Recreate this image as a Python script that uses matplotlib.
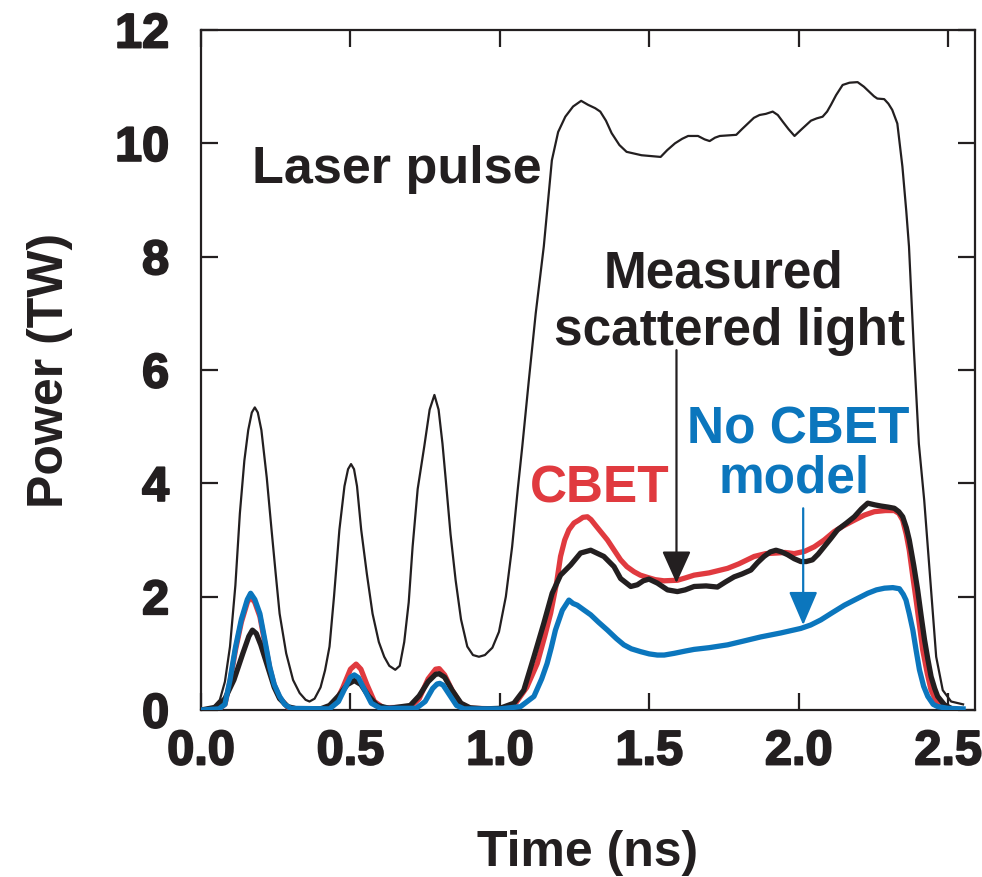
import matplotlib
matplotlib.use("Agg")
import matplotlib.pyplot as plt
import matplotlib.patheffects as pe

# --- data ---
laser_t = [0.00, 0.04, 0.063, 0.08, 0.097, 0.115, 0.13, 0.145, 0.158, 0.17, 0.18, 0.19, 0.202,
           0.22, 0.236, 0.25, 0.263, 0.285, 0.308, 0.33, 0.35, 0.363, 0.38, 0.40, 0.415, 0.43,
           0.445, 0.463, 0.48, 0.492, 0.502, 0.512, 0.522, 0.536, 0.555, 0.574, 0.595, 0.613,
           0.63, 0.65, 0.665, 0.68, 0.695, 0.708, 0.725, 0.747, 0.765, 0.781, 0.795, 0.808,
           0.819, 0.835, 0.852, 0.87, 0.891, 0.91, 0.93, 0.95, 0.975, 0.997, 1.02, 1.041, 1.06,
           1.075, 1.097, 1.12, 1.147, 1.174, 1.195, 1.219, 1.245, 1.272, 1.295, 1.319, 1.336,
           1.355, 1.374, 1.40, 1.424, 1.474, 1.538, 1.56, 1.586, 1.61, 1.63, 1.663, 1.685, 1.702,
           1.72, 1.736, 1.765, 1.791, 1.81, 1.83, 1.85, 1.869, 1.89, 1.913, 1.93, 1.947, 1.966,
           1.986, 2.01, 2.041, 2.06, 2.08, 2.095, 2.108, 2.125, 2.147, 2.17, 2.197, 2.218, 2.236,
           2.252, 2.263, 2.286, 2.30, 2.313, 2.33, 2.347, 2.36, 2.369, 2.385, 2.402, 2.42, 2.443,
           2.46, 2.482, 2.51, 2.55]
laser_p = [0.02, 0.05, 0.18, 0.5, 1.12, 2.2, 3.47, 4.4, 4.94, 5.25, 5.34, 5.25, 4.94,
           4.1, 3.18, 2.4, 1.7, 1.0, 0.53, 0.3, 0.18, 0.15, 0.2, 0.4, 0.7, 1.12,
           2.0, 3.18, 3.95, 4.25, 4.34, 4.25, 3.95, 3.18, 2.4, 1.7, 1.2, 0.94,
           0.78, 0.71, 0.78, 1.2, 1.9, 2.88, 3.9, 4.65, 5.3, 5.56, 5.3, 4.7,
           4.06, 3.1, 2.29, 1.6, 1.12, 0.97, 0.94, 0.97, 1.1, 1.38, 2.0, 2.88, 3.9,
           4.65, 5.82, 7.0, 8.18, 9.7, 10.2, 10.47, 10.65, 10.75, 10.68, 10.62, 10.56,
           10.4, 10.18, 9.97, 9.85, 9.79, 9.76, 9.88, 10.0, 10.08, 10.13, 10.13, 10.07, 10.04,
           10.1, 10.13, 10.14, 10.15, 10.25, 10.35, 10.45, 10.5, 10.52, 10.56, 10.5, 10.38, 10.25,
           10.13, 10.25, 10.4, 10.44, 10.47, 10.56, 10.68, 10.85, 11.03, 11.07, 11.08, 11.0, 10.91,
           10.83, 10.79, 10.78, 10.7, 10.59, 10.35, 9.59, 8.8, 8.18, 6.4, 4.7, 3.7, 2.12,
           0.94, 0.35, 0.15, 0.1]

measured_t = [0.00, 0.05, 0.08, 0.11, 0.14, 0.16, 0.172, 0.185, 0.20, 0.215, 0.23, 0.245, 0.263,
              0.29, 0.32, 0.40, 0.43, 0.46, 0.49, 0.513, 0.535, 0.56, 0.59, 0.63, 0.70, 0.73,
              0.76, 0.785, 0.797, 0.815, 0.84, 0.87, 0.90, 0.95, 1.00, 1.047, 1.08, 1.114, 1.147,
              1.175, 1.203, 1.237, 1.27, 1.304, 1.348, 1.382, 1.404, 1.438, 1.46, 1.48, 1.499,
              1.527, 1.561, 1.594, 1.62, 1.65, 1.69, 1.728, 1.755, 1.784, 1.81, 1.84, 1.862,
              1.884, 1.905, 1.924, 1.943, 1.963, 1.985, 2.007, 2.025, 2.046, 2.065, 2.085, 2.108,
              2.13, 2.16, 2.186, 2.21, 2.231, 2.255, 2.275, 2.30, 2.32, 2.335, 2.348, 2.36, 2.37,
              2.385, 2.398, 2.41, 2.421, 2.432, 2.443, 2.455, 2.465, 2.488, 2.51]
measured_p = [0.0, 0.05, 0.2, 0.53, 1.0, 1.3, 1.41, 1.35, 1.15, 0.9, 0.65, 0.4, 0.2,
              0.06, 0.02, 0.02, 0.08, 0.25, 0.45, 0.52, 0.45, 0.25, 0.08, 0.03, 0.08, 0.25,
              0.5, 0.63, 0.64, 0.58, 0.35, 0.12, 0.04, 0.02, 0.03, 0.12, 0.35, 0.94, 1.53,
              2.06, 2.38, 2.56, 2.77, 2.82, 2.71, 2.53, 2.32, 2.18, 2.21, 2.28, 2.31,
              2.24, 2.12, 2.09, 2.12, 2.18, 2.19, 2.17, 2.26, 2.35, 2.4, 2.47, 2.6,
              2.71, 2.79, 2.82, 2.79, 2.74, 2.67, 2.62, 2.62, 2.65, 2.75, 2.88, 3.03,
              3.18, 3.3, 3.41, 3.55, 3.65, 3.62, 3.6, 3.58, 3.56, 3.5, 3.41, 3.22, 3.0,
              2.55, 2.12, 1.65, 1.24, 0.9, 0.59, 0.38, 0.24, 0.09, 0.03]

cbet_t = [0.00, 0.06, 0.08, 0.097, 0.115, 0.135, 0.155, 0.166, 0.18, 0.197, 0.213, 0.23, 0.245,
          0.263, 0.29, 0.32, 0.42, 0.45, 0.475, 0.50, 0.519, 0.535, 0.555, 0.58, 0.61, 0.70,
          0.73, 0.76, 0.785, 0.797, 0.815, 0.84, 0.87, 0.90, 1.00, 1.05, 1.09, 1.125, 1.15,
          1.17, 1.19, 1.203, 1.217, 1.231, 1.248, 1.264, 1.278, 1.293, 1.305, 1.32, 1.34, 1.36,
          1.38, 1.404, 1.425, 1.449, 1.47, 1.494, 1.52, 1.549, 1.594, 1.62, 1.65, 1.70, 1.762,
          1.80, 1.851, 1.89, 1.924, 1.955, 1.985, 2.02, 2.052, 2.085, 2.119, 2.15, 2.186, 2.22,
          2.253, 2.29, 2.32, 2.335, 2.348, 2.36, 2.37, 2.382, 2.393, 2.404, 2.415, 2.43, 2.443,
          2.458, 2.47, 2.49]
cbet_p = [0.0, 0.02, 0.1, 0.5, 1.05, 1.55, 1.9, 2.0, 1.9, 1.65, 1.2, 0.74, 0.44,
          0.22, 0.05, 0.02, 0.02, 0.12, 0.4, 0.72, 0.81, 0.72, 0.45, 0.15, 0.04, 0.05,
          0.2, 0.55, 0.72, 0.73, 0.62, 0.35, 0.1, 0.03, 0.02, 0.1, 0.4, 0.82, 1.3,
          1.71, 2.25, 2.71, 3.0, 3.18, 3.3, 3.35, 3.4, 3.41, 3.36, 3.26, 3.13, 3.0,
          2.84, 2.65, 2.53, 2.44, 2.38, 2.34, 2.3, 2.28, 2.29, 2.33, 2.38, 2.42, 2.5,
          2.58, 2.71, 2.76, 2.77, 2.78, 2.76, 2.8, 2.88, 3.0, 3.15, 3.25, 3.35, 3.44,
          3.5, 3.52, 3.52, 3.47, 3.35, 3.1, 2.82, 2.35, 1.94, 1.5, 1.06, 0.65, 0.35,
          0.18, 0.09, 0.03]

nocbet_t = [0.00, 0.06, 0.08, 0.097, 0.115, 0.135, 0.155, 0.166, 0.18, 0.197, 0.213, 0.23, 0.245,
            0.263, 0.28, 0.30, 0.43, 0.46, 0.485, 0.50, 0.513, 0.527, 0.545, 0.57, 0.60, 0.72,
            0.75, 0.775, 0.79, 0.799, 0.81, 0.83, 0.855, 0.88, 1.00, 1.069, 1.114, 1.14, 1.158,
            1.172, 1.186, 1.209, 1.231, 1.245, 1.259, 1.28, 1.304, 1.33, 1.36, 1.39, 1.415, 1.44,
            1.471, 1.50, 1.527, 1.55, 1.583, 1.62, 1.65, 1.70, 1.762, 1.81, 1.873, 1.94, 2.007,
            2.04, 2.074, 2.11, 2.153, 2.19, 2.231, 2.26, 2.287, 2.315, 2.337, 2.35, 2.359, 2.37,
            2.382, 2.393, 2.404, 2.418, 2.432, 2.45, 2.465, 2.50, 2.55]
nocbet_p = [0.0, 0.02, 0.1, 0.53, 1.1, 1.6, 1.95, 2.06, 1.95, 1.7, 1.25, 0.76, 0.45,
            0.24, 0.1, 0.03, 0.02, 0.15, 0.42, 0.58, 0.62, 0.57, 0.38, 0.12, 0.03, 0.03,
            0.15, 0.38, 0.46, 0.47, 0.44, 0.28, 0.08, 0.02, 0.02, 0.06, 0.24, 0.55, 0.82,
            1.1, 1.41, 1.76, 1.94, 1.88, 1.85, 1.77, 1.68, 1.55, 1.41, 1.26, 1.15, 1.08,
            1.03, 0.99, 0.97, 0.97, 1.0, 1.04, 1.07, 1.1, 1.15, 1.21, 1.29, 1.36, 1.44,
            1.5, 1.59, 1.71, 1.85, 1.95, 2.06, 2.12, 2.15, 2.16, 2.14, 2.04, 1.94, 1.7,
            1.41, 1.05, 0.71, 0.42, 0.24, 0.1, 0.06, 0.03, 0.02]

x_ticks = [0.0, 0.5, 1.0, 1.5, 2.0, 2.5]
y_ticks = [0, 2, 4, 6, 8, 10, 12]

BLACK = "#231f20"
RED = "#e03a3f"
BLUE = "#0b76bd"

plt.rcParams['font.family'] = ['Liberation Sans', 'DejaVu Sans']
plt.rcParams['font.weight'] = 'bold'

fig = plt.figure(figsize=(9.82, 8.77), dpi=100)
ax = fig.add_axes([0.2047, 0.1904, 0.7882, 0.7754])

ax.plot(laser_t, laser_p, color=BLACK, lw=1.6, zorder=2)
ax.plot(cbet_t, cbet_p, color=RED, lw=3.8, zorder=3)
ax.plot(measured_t, measured_p, color=BLACK, lw=3.8, zorder=4)
ax.plot(nocbet_t, nocbet_p, color=BLUE, lw=3.8, zorder=5)

ax.set_xlim(0, 2.59)
ax.set_ylim(0, 12)
ax.set_xticks(x_ticks)
ax.set_xticklabels([f"{v:.1f}" for v in x_ticks])
ax.set_yticks(y_ticks)

for s in ax.spines.values():
    s.set_linewidth(1.6)
    s.set_color(BLACK)
ax.tick_params(direction='in', length=12, width=1.6, color=BLACK,
               top=True, right=True, labelsize=35, labelcolor=BLACK)
ax.tick_params(axis='x', pad=14)
ax.tick_params(axis='y', pad=23)

# slightly heavier tick digits, like the original's black typeface
heavy = [pe.withStroke(linewidth=1.4, foreground=BLACK)]
for lab in ax.get_xticklabels() + ax.get_yticklabels():
    lab.set_path_effects(heavy)

ax.set_xlabel("Time (ns)", fontsize=36, fontweight='bold', color=BLACK, labelpad=40)
ax.set_ylabel("Power (TW)", fontsize=36, fontweight='bold', color=BLACK, labelpad=30)

# labels inside the plot
ax.text(0.171, 9.30, "Laser pulse", fontsize=37.5, color=BLACK, ha='left', va='baseline')
ax.text(1.75, 7.45, "Measured", fontsize=37, color=BLACK, ha='center', va='baseline')
ax.text(1.77, 6.44, "scattered light", fontsize=37, color=BLACK, ha='center', va='baseline')
ax.text(1.334, 3.67, "CBET", fontsize=37, color=RED, ha='center', va='baseline')
ax.text(1.997, 4.71, "No CBET", fontsize=37, color=BLUE, ha='center', va='baseline')
ax.text(1.984, 3.83, "model", fontsize=37, color=BLUE, ha='center', va='baseline')

# arrows
ax.annotate("", xy=(1.591, 2.24), xytext=(1.591, 6.35),
            arrowprops=dict(arrowstyle="-|>,head_length=1.0,head_width=0.45",
                            color=BLACK, lw=1.6, shrinkA=0, shrinkB=0, mutation_scale=20),
            zorder=6)
ax.annotate("", xy=(2.015, 1.5), xytext=(2.015, 3.56),
            arrowprops=dict(arrowstyle="-|>,head_length=1.05,head_width=0.45",
                            color=BLUE, lw=1.6, shrinkA=0, shrinkB=0, mutation_scale=20),
            zorder=6)

fig.savefig("out.png", dpi=100)
